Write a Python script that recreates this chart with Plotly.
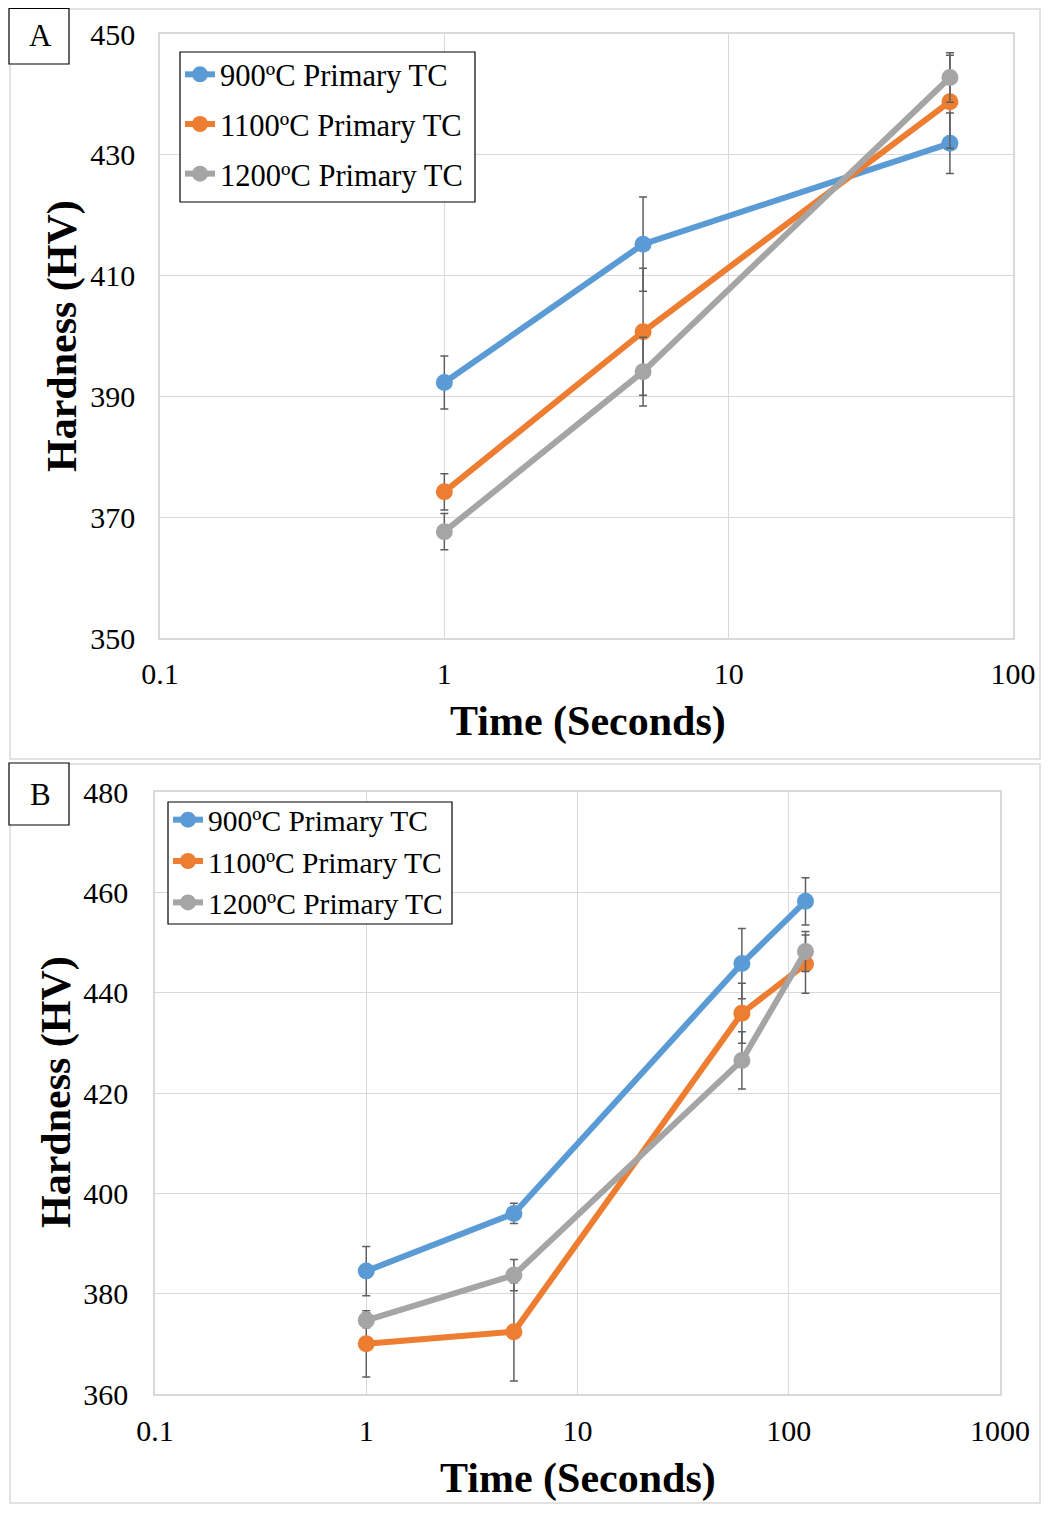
import plotly.graph_objects as go

# The page body has an 8px margin; size the figure so it fits the window
# without overflowing.
OX, OY = 8, 8
W, H = 1049 - 2 * OX, 1513 - 2 * OY

series_names = ["900ºC Primary TC", "1100ºC Primary TC", "1200ºC Primary TC"]
colors = ["#5B9BD5", "#ED7D31", "#A5A5A5"]

# Panel A
time_a = [1, 5, 60]
hv_a_900 = [392.3, 415.2, 431.9]
err_a_900 = [4.4, 7.8, 5.0]
hv_a_1100 = [374.2, 400.7, 438.8]
err_a_1100 = [3.0, 10.5, 7.7]
hv_a_1200 = [367.6, 394.1, 442.8]
err_a_1200 = [3.0, 5.7, 4.1]

# Panel B
time_b = [1, 5, 60, 120]
hv_b_900 = [384.5, 396.0, 445.8, 458.2]
err_b_900 = [4.9, 2.0, 7.0, 4.7]
hv_b_1100 = [370.0, 372.4, 435.9, 445.7]
err_b_1100 = [6.6, 9.8, 6.0, 5.8]
hv_b_1200 = [374.7, 383.7, 426.5, 448.2]
err_b_1200 = [1.5, 3.1, 5.7, 4.0]

xticks_a = [0.1, 1, 10, 100]
xticklabels_a = ["0.1", "1", "10", "100"]
xticks_b = [0.1, 1, 10, 100, 1000]
xticklabels_b = ["0.1", "1", "10", "100", "1000"]
yticks_a = [350, 370, 390, 410, 430, 450]
yticks_b = [360, 380, 400, 420, 440, 460, 480]

FONT = "Liberation Serif, Times New Roman, serif"

fig = go.Figure()

def add_series(x, ys, errs, xa, ya, legend):
    for name, c, y, e in zip(series_names, colors, ys, errs):
        fig.add_trace(go.Scatter(
            x=x, y=y, name=name, mode="lines+markers",
            xaxis=xa, yaxis=ya, legend=legend, legendgroup=legend + name,
            line=dict(color=c, width=6),
            marker=dict(color=c, size=17),
            error_y=dict(type="data", array=e, visible=True,
                         color="#5F5F5F", thickness=1.5, width=4),
        ))

add_series(time_a, [hv_a_900, hv_a_1100, hv_a_1200],
           [err_a_900, err_a_1100, err_a_1200], "x", "y", "legend")
add_series(time_b, [hv_b_900, hv_b_1100, hv_b_1200],
           [err_b_900, err_b_1100, err_b_1200], "x2", "y2", "legend2")

def px_x(v):
    return (v - OX) / W

def px_y(v):
    return 1 - (v - OY) / H

grid = "#D9D9D9"
tickfont = dict(family=FONT, size=30, color="black")

axis_common = dict(showgrid=True, gridcolor=grid, gridwidth=1,
                   showline=True, linecolor=grid, linewidth=1.5, mirror=True,
                   zeroline=False, ticks="", tickfont=tickfont, automargin=False)

fig.update_layout(
    width=W, height=H,
    margin=dict(l=0, r=0, t=0, b=0, autoexpand=False),
    paper_bgcolor="white", plot_bgcolor="white",
    showlegend=True,
    xaxis=dict(type="log", range=[-1, 2], domain=[px_x(160), px_x(1013)],
               tickvals=xticks_a, ticktext=xticklabels_a, anchor="y",
               ticklabelstandoff=8, **axis_common),
    yaxis=dict(range=[350, 450], tickvals=yticks_a, domain=[px_y(638), px_y(34)],
               anchor="x", ticklabelstandoff=17, **axis_common),
    xaxis2=dict(type="log", range=[-1, 3], domain=[px_x(155), px_x(1000)],
                tickvals=xticks_b, ticktext=xticklabels_b, anchor="y2",
                ticklabelstandoff=9, **axis_common),
    yaxis2=dict(range=[360, 480], tickvals=yticks_b, domain=[px_y(1394), px_y(792)],
                anchor="x2", ticklabelstandoff=19, **axis_common),
    legend=dict(x=px_x(180), y=px_y(48), xanchor="left", yanchor="top",
                bgcolor="rgba(0,0,0,0)", borderwidth=0,
                font=dict(family=FONT, size=30.5, color="black"),
                tracegroupgap=7, itemwidth=30),
    legend2=dict(x=px_x(168), y=px_y(794), xanchor="left", yanchor="top",
                 bgcolor="rgba(0,0,0,0)", borderwidth=0,
                 font=dict(family=FONT, size=29.5, color="black"),
                 tracegroupgap=0, itemwidth=30),
)

shapes = [
    dict(type="rect", xref="paper", yref="paper",
         x0=px_x(10), x1=px_x(1040), y0=px_y(759), y1=px_y(9),
         line=dict(color=grid, width=1.5), layer="below"),
    dict(type="rect", xref="paper", yref="paper",
         x0=px_x(10), x1=px_x(1040), y0=px_y(1503), y1=px_y(764),
         line=dict(color=grid, width=1.5), layer="below"),
    dict(type="rect", xref="paper", yref="paper",
         x0=px_x(9), x1=px_x(69), y0=px_y(64), y1=px_y(8.5),
         line=dict(color="black", width=1.2), fillcolor="white"),
    dict(type="rect", xref="paper", yref="paper",
         x0=px_x(9), x1=px_x(69), y0=px_y(825), y1=px_y(763),
         line=dict(color="black", width=1.2), fillcolor="white"),
    # legend boxes
    dict(type="rect", xref="paper", yref="paper",
         x0=px_x(180), x1=px_x(475), y0=px_y(202), y1=px_y(52),
         line=dict(color="black", width=1.2), fillcolor="white", layer="above"),
    dict(type="rect", xref="paper", yref="paper",
         x0=px_x(168), x1=px_x(452), y0=px_y(924), y1=px_y(802),
         line=dict(color="black", width=1.2), fillcolor="white", layer="above"),
]
fig.update_layout(shapes=shapes)

title_font = dict(family=FONT, size=42, color="black", weight="bold")
annotations = [
    dict(text="A", x=px_x(40), y=px_y(36), xref="paper", yref="paper",
         showarrow=False, xanchor="center", yanchor="middle",
         font=dict(family=FONT, size=31, color="black")),
    dict(text="B", x=px_x(40), y=px_y(794), xref="paper", yref="paper",
         showarrow=False, xanchor="center", yanchor="middle",
         font=dict(family=FONT, size=31, color="black")),
    dict(text="Time (Seconds)", x=px_x(588), y=px_y(721), xref="paper", yref="paper",
         showarrow=False, xanchor="center", yanchor="middle", font=title_font),
    dict(text="Time (Seconds)", x=px_x(578), y=px_y(1478), xref="paper", yref="paper",
         showarrow=False, xanchor="center", yanchor="middle", font=title_font),
    dict(text="Hardness (HV)", x=px_x(62), y=px_y(336), xref="paper", yref="paper",
         showarrow=False, xanchor="center", yanchor="middle", textangle=-90,
         font=title_font),
    dict(text="Hardness (HV)", x=px_x(56), y=px_y(1092), xref="paper", yref="paper",
         showarrow=False, xanchor="center", yanchor="middle", textangle=-90,
         font=title_font),
]
fig.update_layout(annotations=annotations)

fig.write_html("out.html")
